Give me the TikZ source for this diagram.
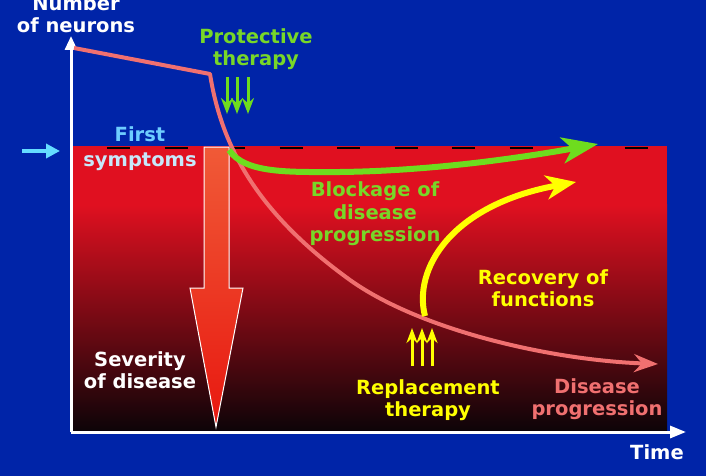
\documentclass[tikz,border=0pt]{standalone}
\usepackage{fontspec}
\setmainfont{DejaVu Sans}
\usetikzlibrary{arrows.meta}
\definecolor{bgblue}{RGB}{0,36,168}
\definecolor{panelred}{RGB}{224,16,32}
\definecolor{paneldark}{RGB}{14,4,8}
\definecolor{pinkc}{RGB}{240,112,112}
\definecolor{limec}{RGB}{110,220,30}
\definecolor{limetext}{RGB}{120,215,40}
\definecolor{yellowc}{RGB}{255,255,0}
\definecolor{cyanarrow}{RGB}{100,220,255}
\definecolor{firstc}{RGB}{110,205,255}
\definecolor{sympc}{RGB}{200,232,250}
\definecolor{arrowtop}{RGB}{240,90,55}
\definecolor{arrowbot}{RGB}{232,24,16}
\tikzset{
  lbl/.style={font=\fontsize{19.5}{22.5}\selectfont\bfseries, align=center, inner sep=0pt},
  axisline/.style={white, line width=3pt},
}
\begin{document}
\begin{tikzpicture}[x=1pt,y=-1pt]
\useasboundingbox (0,0) rectangle (706,476);
\fill[bgblue] (0,0) rectangle (706,476);
% red panel
\fill[panelred] (73,146) rectangle (667,205);
\shade[top color=panelred, bottom color=paneldark] (73,204.5) rectangle (667,430);
\draw[black, line width=2pt, dash pattern=on 23pt off 34.5pt] (107,147.5) -- (667,147.5);
% axes
\coordinate (yo) at (71,432);
\coordinate (ytop) at (71,36);
\coordinate (xend) at (686,432);
\draw[axisline, -{Triangle[length=14pt,width=12pt]}] (yo) -- (ytop);
\draw[axisline, -{Triangle[length=16pt,width=12pt]}] (yo) -- (xend);
% severity arrow
\path[draw=white, line width=1pt, top color=arrowtop, bottom color=arrowbot]
  (204,147) -- (229,147) -- (229,288) -- (243,288) -- (216,427) -- (190,288) -- (204,288) -- cycle;
% first symptoms arrow
\coordinate (ca) at (22,151);
\coordinate (cb) at (60,151);
\draw[cyanarrow, line width=4pt, -{Triangle[length=14pt,width=14pt]}] (ca) -- (cb);
% disease progression curve
\coordinate (d0) at (74,48);
\coordinate (d1) at (210,74);
\coordinate (d2) at (350,280);
\coordinate (d3) at (658,364);
\draw[pinkc, line width=4pt, line join=round, -{Stealth[length=24pt,width=18pt,inset=8pt]}]
  (d0) -- (d1) .. controls (222,150) and (260,215) .. (d2) .. controls (420,330) and (550,360) .. (d3);
% green curve
\coordinate (g0) at (229,150);
\coordinate (g1) at (598,144);
\draw[limec, line width=6pt, -{Stealth[length=36pt,width=26pt,inset=10pt]}]
  (g0) .. controls (245,174) and (290,172) .. (340,172) .. controls (430,171) and (520,158) .. (g1);
% yellow curve
\coordinate (y0) at (425,316);
\coordinate (y1) at (576,182);
\draw[yellowc, line width=6pt, -{Stealth[length=30pt,width=24pt,inset=9pt]}]
  (y0) .. controls (413,270) and (450,205) .. (y1);
% protective arrows
\foreach \xx/\nm in {227/a,237/b,248/c}{
  \coordinate (pt\nm) at (\xx,77);
  \coordinate (pb\nm) at (\xx,114);
  \draw[limec, line width=3pt, -{Stealth[length=16pt,width=12pt]}] (pt\nm) -- (pb\nm);
}
% replacement arrows
\foreach \xx/\nm in {412/a,422/b,432/c}{
  \coordinate (rb\nm) at (\xx,366);
  \coordinate (rt\nm) at (\xx,328);
  \draw[yellowc, line width=3pt, -{Stealth[length=15pt,width=11pt]}] (rb\nm) -- (rt\nm);
}
% labels
\node[lbl, white] (neur) at (76,14) {Number\\of neurons};
\node[lbl, limetext] (prot) at (256,49) {Protective\\therapy};
\node[lbl, firstc] (first) at (140,134) {First};
\node[lbl, sympc] (symp) at (140,162) {symptoms};
\node[lbl, limetext] (block) at (375,214) {Blockage of\\disease\\progression};
\node[lbl, yellowc] (recov) at (543,288) {Recovery of\\functions};
\node[lbl, white] (sev) at (140,370) {Severity\\of disease};
\node[lbl, yellowc] (repl) at (428,400) {Replacement\\therapy};
\node[lbl, pinkc] (dprog) at (597,399) {Disease\\progression};
\node[lbl, white] (time) at (657,452) {Time};
\end{tikzpicture}
\end{document}
